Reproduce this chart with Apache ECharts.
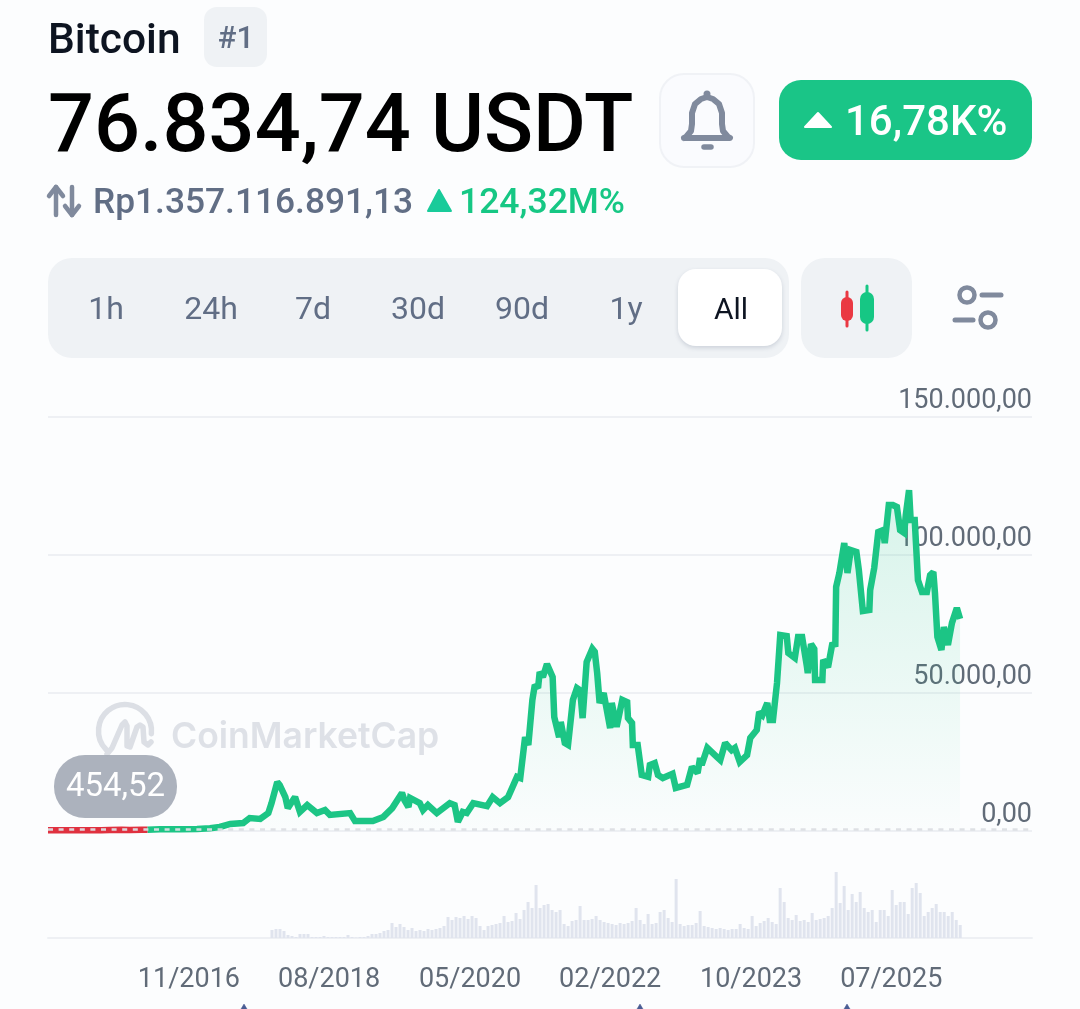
<!DOCTYPE html>
<html><head><meta charset="utf-8">
<style>html,body{margin:0;padding:0;background:#fcfdfe}#c{width:1080px;height:1009px}</style>
<script src="https://cdn.jsdelivr.net/npm/echarts@6/dist/echarts.min.js"></script>
</head><body><div id="c"></div>
<script>
const priceYears=[2015.09,2015.4,2015.75,2015.85,2016.0,2016.1,2016.25,2016.32,2016.47,2016.72,2016.93,2017.09,2017.21,2017.34,2017.5,2017.58,2017.71,2017.81,2017.85,2017.92,2017.95,2018.02,2018.05,2018.14,2018.2,2018.29,2018.41,2018.51,2018.57,2018.82,2018.88,2019.1,2019.23,2019.34,2019.46,2019.49,2019.54,2019.56,2019.68,2019.72,2019.78,2019.89,2020.05,2020.11,2020.15,2020.21,2020.26,2020.34,2020.51,2020.58,2020.67,2020.77,2020.88,2020.92,2020.98,2021.02,2021.07,2021.1,2021.14,2021.16,2021.2,2021.25,2021.32,2021.34,2021.4,2021.42,2021.47,2021.51,2021.57,2021.62,2021.66,2021.69,2021.74,2021.81,2021.84,2021.87,2021.9,2021.95,2022.03,2022.05,2022.11,2022.18,2022.24,2022.25,2022.3,2022.31,2022.37,2022.42,2022.5,2022.52,2022.58,2022.62,2022.68,2022.8,2022.84,2022.98,2023.04,2023.11,2023.14,2023.16,2023.23,2023.35,2023.39,2023.45,2023.53,2023.57,2023.63,2023.72,2023.76,2023.84,2023.87,2023.91,2023.97,2024.0,2024.04,2024.09,2024.13,2024.21,2024.23,2024.31,2024.35,2024.4,2024.46,2024.47,2024.51,2024.55,2024.56,2024.65,2024.66,2024.72,2024.77,2024.81,2024.82,2024.86,2024.92,2024.96,2025.0,2025.07,2025.1,2025.15,2025.23,2025.24,2025.29,2025.34,2025.4,2025.42,2025.47,2025.52,2025.57,2025.61,2025.66,2025.68,2025.72,2025.74,2025.79,2025.83,2025.88,2025.94,2025.98,2026.02,2026.04,2026.07,2026.12,2026.15,2026.2,2026.25,2026.31,2026.35];
const priceValues=[230,240,250,330,430,380,420,454.52,650,620,740,1000,1450,2540,2900,4700,4350,6500,10100,17750,16700,12300,8300,12300,6900,9400,6500,7600,5800,6500,3600,3600,5100,8300,13800,11200,8700,12000,10100,7600,9400,6500,10100,9400,3300,6900,6500,10100,9000,12300,10100,12300,19600,19200,34000,31200,47500,52900,51800,57600,55800,60500,55800,41300,34000,39500,31900,31200,47500,51800,51000,40900,61200,66000,64900,57200,46400,50000,37300,46400,37700,47500,46700,40900,39100,31200,31200,20300,19600,23900,24600,20300,19200,20700,15600,16700,23200,21000,26400,23900,30100,26800,25700,31900,29300,30100,25000,27500,33700,36600,43100,42000,46400,40200,40200,53600,71000,70600,64500,62700,70300,70300,59400,57200,67700,65900,54700,54700,62000,59400,67400,67700,88400,93500,104300,93500,101800,101100,94600,79700,80100,87300,95300,108300,109000,104300,118100,118100,117400,109000,108000,114500,123500,112700,112700,90900,86600,86600,92700,93800,86200,70300,65600,73900,67400,75400,80800,76834.74];
const volumeStartYear=2017.855, volumeStepYears=0.0494;
const volumeValues=[8,9,9,7,3,2,1,4,4,4,1,1,1,2,1,1,1,1,1,3,1,0.5,1,1,2,4,4,5,7,8,15,11,14,11,8,10,7,8,7,9,8,9,10,12,21,18,21,20,22,19,22,20,12,8,12,13,14,15,22,16,17,25,19,28,36,30,53,30,33,34,28,26,28,14,12,17,18,32,18,18,19,22,18,16,15,14,13,15,14,15,17,30,18,14,24,14,15,26,28,20,16,59,14,12,13,13,15,27,12,11,10,9,10,9,8,9,9,14,10,9,22,12,15,17,20,16,14,50,36,20,18,23,17,18,16,25,18,19,20,22,30,66,35,52,28,44,36,46,30,26,28,16,28,28,22,48,33,36,36,24,50,55,45,22,26,30,34,26,26,22,26,18,13];
const xTickYears=[2016.83,2018.56,2020.30,2022.03,2023.77,2025.50];
const xTickLabels=['11/2016','08/2018','05/2020','02/2022','10/2023','07/2025'];
const yTicks=[0,50000,100000,150000];
const yTickLabels=['0,00','50.000,00','100.000,00','150.000,00'];
const basePrice=454.52, basePriceLabel='454,52';
const axisStartYear=2015.09, axisEndYear=2027.238;
const ranges=['1h','24h','7d','30d','90d','1y','All'];
const rangeCentres=[106,211,313,418,522,626,731];

const priceSeries=priceYears.map((y,i)=>[y,priceValues[i]]);
const splitAt=priceValues.indexOf(basePrice);
const belowBase=priceSeries.slice(0,splitAt+1), aboveBase=priceSeries.slice(splitAt);
const volumeSeries=volumeValues.map((v,i)=>[volumeStartYear+i*volumeStepYears,v]);

const GREY='#808a9d',SLATE='#616e85',LIGHT='#eff2f5';
const T=(x,y,text,font,fill,align,z)=>({type:'text',x,y,z:z||10,style:{text,font,fill,align:align||'left',verticalAlign:'middle'}});
const R=(x,y,w,h,r,fill,extra)=>({type:'rect',x,y,z:5,shape:{x:0,y:0,width:w,height:h,r},style:Object.assign({fill},extra||{})});
const L=(x1,y1,x2,y2,stroke,w)=>({type:'line',z:10,shape:{x1,y1,x2,y2},style:{stroke,lineWidth:w,lineCap:'round'}});
const path=(d,fill,stroke,w,z)=>({type:fill&&fill!=='none'?'polygon':'polyline',z:z||10,shape:{points:d},style:{fill:fill||'none',stroke:stroke||'none',lineWidth:w||0,lineCap:'round',lineJoin:'round'}});

const graphic=[
 T(48,42,'Bitcoin','500 42.5px Roboto','#0d1421'),
 R(204,7,63,60,13,LIGHT),
 T(236,40,'#1','500 31px Roboto',SLATE,'center'),
 T(48,131,'76.834,74 USDT','500 81px Roboto','#000000'),
 R(660,74,94,93,24,'#fafbfe',{stroke:'#f0f2f6',lineWidth:2}),
 {type:'circle',z:10,shape:{cx:707,cy:94,r:2.5},style:{fill:GREY,stroke:GREY,lineWidth:2}},
 path([[684,138],[686,137],[691,131],[692,124],[692,113],[695,104],[701,99],[707,97],[713,99],[719,104],[722,113],[722,124],[723,131],[728,137],[730,138],[684,138]],'none',GREY,6),
 L(704,147,711,147,GREY,5.5),
 R(779,80,253,80,22,'#1ac587'),
 path([[805,127],[818,113],[831,127]],'#ffffff','#ffffff',2),
 T(845,124,'16,78K%','500 42px Roboto','#ffffff'),
 path([[56,215],[56,187]],'none',GREY,4.5), path([[49,196],[56,187],[63,196]],'none',GREY,4.5),
 path([[72,187],[72,215]],'none',GREY,4.5), path([[65,206],[72,215],[79,206]],'none',GREY,4.5),
 T(93,204,'Rp1.357.116.891,13','500 35.3px Roboto',SLATE),
 path([[428,211],[439,190],[451,211]],'#19cb9a','#19cb9a',2),
 T(459,204,'124,32M%','500 35.5px Roboto','#16c784'),
 R(48,258,741,100,24,LIGHT),
 R(678,269,104,77,18,'#ffffff',{shadowBlur:4,shadowColor:'rgba(88,102,126,0.22)',shadowOffsetY:2}),
 ...ranges.map((r,i)=>T(rangeCentres[i],311,r,r==='All'?'400 30px Roboto':'400 32px Roboto',r==='All'?'#0d1421':SLATE,'center',12)),
 R(801,258,111,100,24,LIGHT),
 L(847,292,847,326,'#ea3943',3), R(841,297,12,24,6,'#ea3943'), 
 L(867,286,867,330,'#16c784',3), R(860,292,14,32,7,'#16c784'),
 {type:'circle',z:10,shape:{cx:967,cy:295,r:7.5},style:{fill:'none',stroke:GREY,lineWidth:4.5}},
 L(982,295,1001,295,GREY,5),
 {type:'circle',z:10,shape:{cx:988,cy:320,r:7.5},style:{fill:'none',stroke:GREY,lineWidth:4.5}},
 L(955,320,973,320,GREY,5),
 {type:'arc',z:1,shape:{cx:125,cy:731,r:26.5,startAngle:0.1,endAngle:Math.PI*0.75,clockwise:false},style:{fill:'none',stroke:'#dcdfe5',lineWidth:5.5,lineCap:'round'}},
 path([[107,754],[112,748],[122,725],[125,722],[127,726],[127,746],[130,747],[137,727],[140,725],[143,727],[144,742],[148,745],[151,742]],'none','#dcdfe5',5.5,1),
 T(171,737,'CoinMarketCap','600 35.5px Inter','#dee1e7','left',1),
 R(54,755,123,63,31,'rgba(166,172,184,0.93)'),
 T(115.5,788,basePriceLabel,'400 33px Roboto','#ffffff','center',12),
 ...[244,640,847].map(x=>path([[x-3,1009],[x,1004],[x+3,1009]],'#4a5d94','#4a5d94',0.5))
];

const chart=echarts.init(document.getElementById('c'),null,{renderer:'canvas',width:1080,height:1009});
chart.setOption({
 animation:false,
 backgroundColor:'#fcfdfe',
 textStyle:{fontFamily:'Roboto'},
 graphic,
 grid:[{left:48,right:48,top:417,height:414},{left:48,right:48,top:868,height:70}],
 xAxis:[
  {type:'value',gridIndex:0,min:axisStartYear,max:axisEndYear,axisLine:{show:false},axisTick:{show:false},axisLabel:{show:false},splitLine:{show:false}},
  {type:'value',gridIndex:1,min:axisStartYear,max:axisEndYear,
   axisLine:{show:true,lineStyle:{color:'#eef0f4',width:2}},axisTick:{show:false},splitLine:{show:false},
   axisLabel:{show:true,customValues:xTickYears,margin:29,fontFamily:'Roboto',fontSize:27,color:'#616b78',hideOverlap:false,
    formatter:v=>{const i=xTickYears.findIndex(t=>Math.abs(t-v)<1e-6);return i<0?'':xTickLabels[i];}}}
 ],
 yAxis:[
  {type:'value',gridIndex:0,position:'right',min:0,max:150000,interval:50000,axisLine:{show:false},axisTick:{show:false},
   splitLine:{show:true,lineStyle:{color:'#eef0f4',width:2}},
   axisLabel:{inside:true,margin:0,fontFamily:'Roboto',fontSize:27,color:'#616b78',verticalAlign:'bottom',lineHeight:32,
    formatter:v=>yTickLabels[yTicks.indexOf(v)]}},
  {type:'value',gridIndex:1,min:0,max:70,show:false,splitLine:{show:false}}
 ],
 series:[
  {type:'line',name:'below',xAxisIndex:0,yAxisIndex:0,data:belowBase,showSymbol:false,symbol:'none',silent:true,z:3,clip:false,
   lineStyle:{width:6.5,color:'#e0313f',join:'round'}},
  {type:'line',name:'above',xAxisIndex:0,yAxisIndex:0,data:aboveBase,showSymbol:false,symbol:'none',silent:true,z:3,clip:false,
   lineStyle:{width:6.5,color:'#1cc585',join:'miter',miterLimit:2},
   areaStyle:{origin:'start',color:new echarts.graphic.LinearGradient(0,487,0,831,[{offset:0,color:'rgba(30,197,133,0.24)'},{offset:1,color:'rgba(30,197,133,0.01)'}],true)},
   markLine:{silent:true,symbol:'none',z:4,label:{show:false},lineStyle:{color:'#dcdee3',width:2.5,type:[5,5.6],opacity:0.95},data:[{yAxis:basePrice}]}},
  {type:'bar',xAxisIndex:1,yAxisIndex:1,data:volumeSeries,barWidth:3,silent:true,itemStyle:{color:'#e0e4ee'},z:2}
 ]
});
</script></body></html>
